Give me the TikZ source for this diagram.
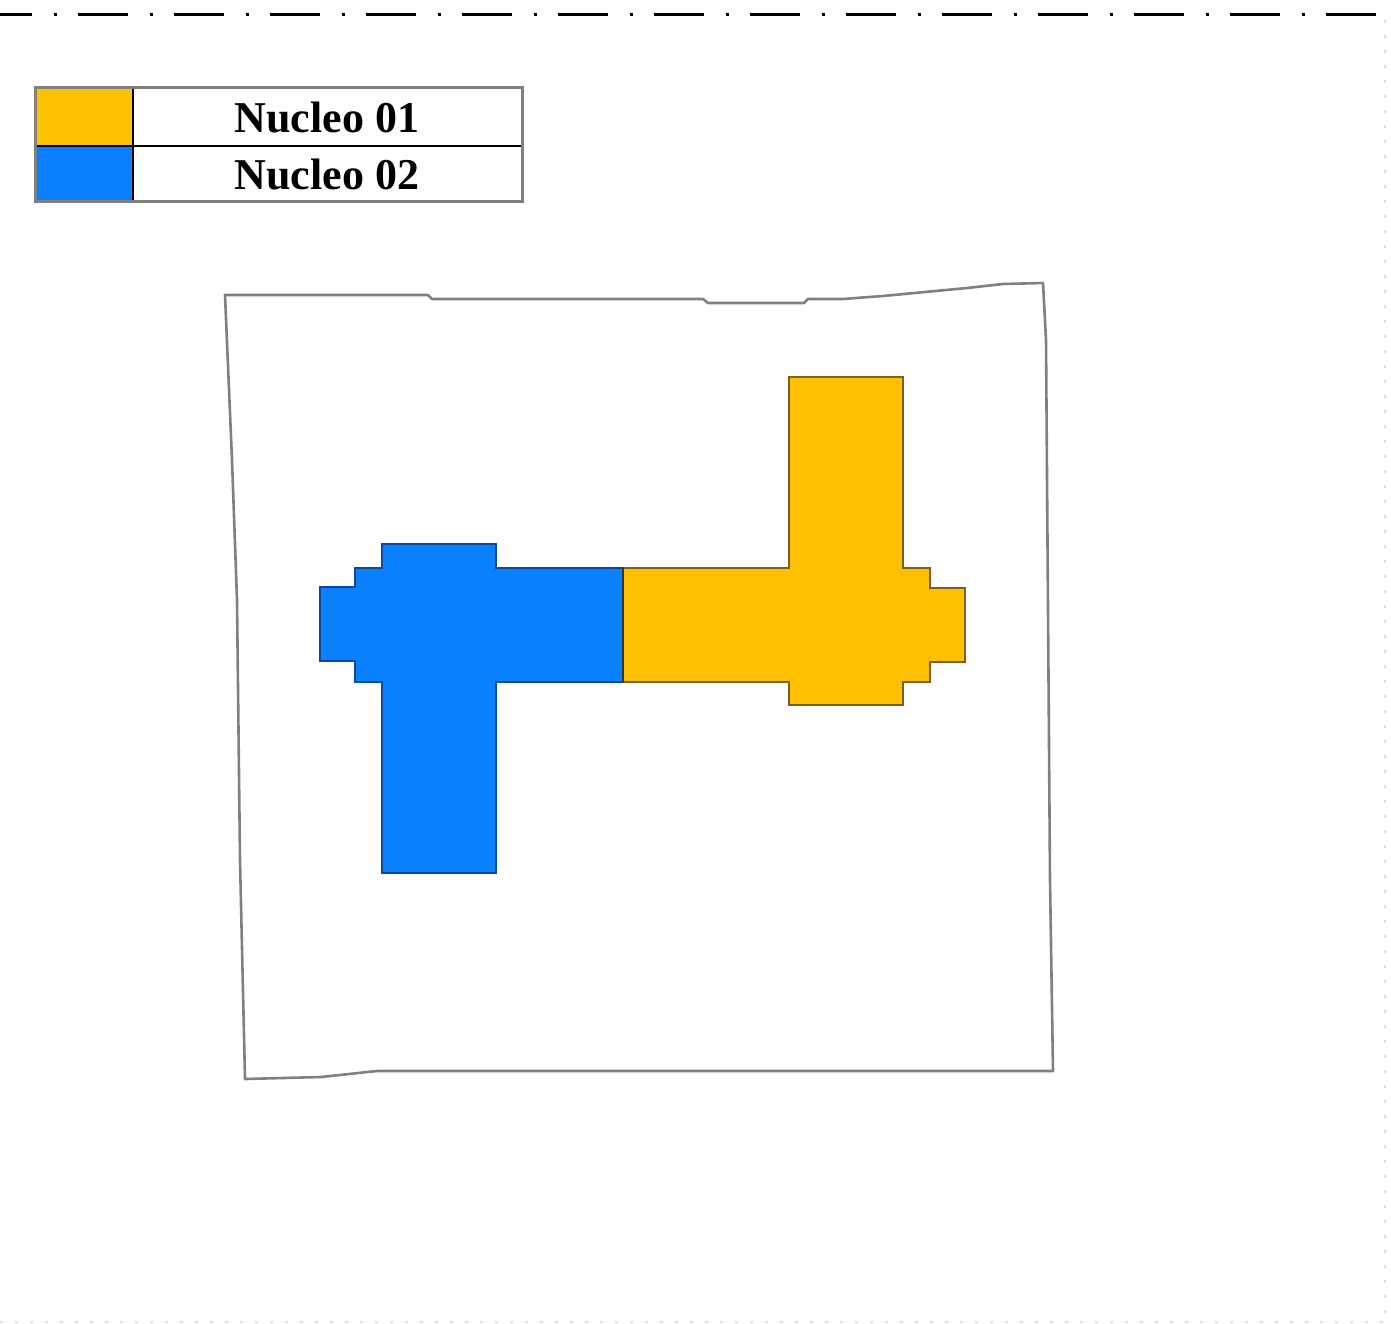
\documentclass[tikz,border=0pt]{standalone}
\usepackage{fontspec}
\setmainfont{Liberation Serif}
\definecolor{nucA}{HTML}{FFC000}
\definecolor{nucB}{HTML}{0A80FF}
\definecolor{nucAline}{HTML}{7A6020}
\definecolor{nucBline}{HTML}{0B4A9A}
\definecolor{frame}{HTML}{808080}
\begin{document}
\begin{tikzpicture}[x=1pt,y=-1pt,
  legtext/.style={font=\fontsize{44}{48}\selectfont\bfseries, inner sep=0pt, anchor=center},
  core/.style={line width=1.6pt, line join=miter},
  outline/.style={draw=frame, line width=2.6pt, line join=round}]
\useasboundingbox (0,0) rectangle (1391,1324);
% top dash-dot line
\draw[line width=3pt, dash pattern=on 50pt off 22pt on 3pt off 21pt, dash phase=18pt] (0,15) -- (1391,15);
% faint right and bottom dotted lines
\draw[gray!25, line width=1.2pt, dash pattern=on 3pt off 12pt] (1385,20) -- (1385,1322);
\draw[gray!25, line width=1.2pt, dash pattern=on 3pt off 12pt] (0,1322) -- (1385,1322);
% legend
\fill[nucA] (35,88) rectangle (133,146);
\fill[nucB] (35,146) rectangle (133,202);
\draw[line width=2pt] (35,146) -- (522,146);
\draw[line width=2pt] (133,88) -- (133,202);
\draw[frame, line width=3pt] (35,88) rectangle (522,202);
\node[legtext] (l1) at (327,118) {Nucleo 01};
\node[legtext] (l2) at (327,175) {Nucleo 02};
% outer hand-drawn frame
\draw[outline] (225,295) -- (428,295) -- (432,299) -- (703,299) -- (708,303) -- (804,303) -- (808,299) -- (843,299) -- (883,296) -- (925,292) -- (967,288) -- (1003,284) -- (1043,283)
  -- (1046,340) -- (1048,610) -- (1050,880) -- (1053,1071)
  -- (377,1071) -- (321,1077) -- (245,1079)
  -- (240,860) -- (237,600) -- (232,460) -- cycle;
% orange core (Nucleo 01)
\draw[core, fill=nucA, draw=nucAline] (789,377) -- (903,377) -- (903,568) -- (930,568) -- (930,588) -- (965,588) -- (965,662) -- (930,662) -- (930,682) -- (903,682) -- (903,705) -- (789,705) -- (789,682) -- (623,682) -- (623,568) -- (789,568) -- cycle;
% blue core (Nucleo 02)
\draw[core, fill=nucB, draw=nucBline] (382,544) -- (496,544) -- (496,568) -- (623,568) -- (623,682) -- (496,682) -- (496,873) -- (382,873) -- (382,682) -- (355,682) -- (355,661) -- (320,661) -- (320,587) -- (355,587) -- (355,568) -- (382,568) -- cycle;
\draw[line width=1.6pt, draw=black!80] (623,568) -- (623,682);
\end{tikzpicture}
\end{document}
